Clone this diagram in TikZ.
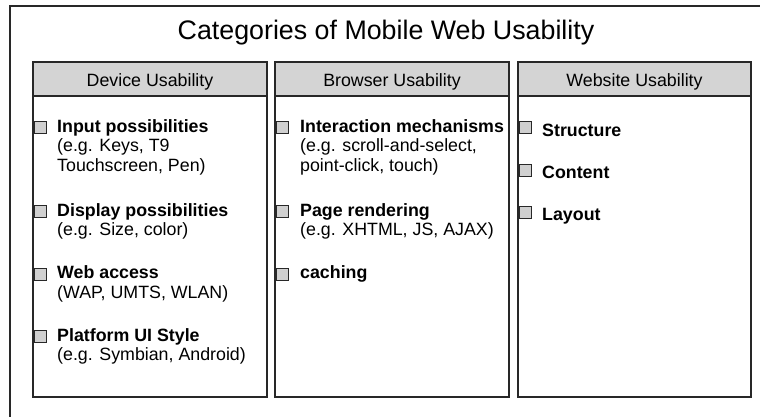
\documentclass[tikz,border=0pt]{standalone}
\usepackage{fontspec}
\setmainfont{Liberation Sans}
\definecolor{hdr}{RGB}{212,212,212}
\definecolor{sq}{RGB}{208,208,208}
\definecolor{ln}{RGB}{40,40,40}
\begin{document}
\begin{tikzpicture}[x=1pt,y=-1pt,
  frame/.style={draw=ln,line width=1.1pt},
  colbox/.style={draw=ln,line width=1.3pt},
  hdrbox/.style={draw=ln,line width=1.3pt,fill=hdr},
  chk/.style={draw=ln,line width=0.9pt,fill=sq,minimum size=12pt,inner sep=0pt,anchor=north west},
  ttl/.style={font=\fontsize{26.8}{30}\selectfont,inner sep=0pt,anchor=base},
  hdrtxt/.style={font=\fontsize{17.8}{20}\selectfont,inner sep=0pt,anchor=base},
  itb/.style={font=\fontsize{17.8}{20}\selectfont\bfseries,inner sep=0pt,anchor=base west},
  itr/.style={font=\fontsize{17.8}{20}\selectfont,inner sep=0pt,anchor=base west}]
\useasboundingbox (0,0) rectangle (760,417);
\clip (0,0) rectangle (760,417);
\fill[white] (0,0) rectangle (760,417);
\draw[frame] (10,6) rectangle (790,440);
\node[ttl] (title) at (386,40) {Categories of Mobile Web Usability};
% columns
\draw[colbox] (33,96) rectangle (267,397);
\draw[hdrbox] (33,62) rectangle (267,96);
\draw[colbox] (275,96) rectangle (509,397);
\draw[hdrbox] (275,62) rectangle (509,96);
\draw[colbox] (518,96) rectangle (751,397);
\draw[hdrbox] (518,62) rectangle (751,96);
\node[hdrtxt] (h1) at (150,87) {Device Usability};
\node[hdrtxt] (h2) at (392,87) {Browser Usability};
\node[hdrtxt] (h3) at (634.5,87) {Website Usability};
% column 1
\node[chk] (s11) at (33.5,121) {};
\node[itb] (a11) at (57,132) {Input possibilities};
\node[itr] (b11) at (57,151.5) {(e.g. Keys, T9};
\node[itr] (c11) at (57,171) {Touchscreen, Pen)};
\node[chk] (s12) at (33.5,205) {};
\node[itb] (a12) at (57,216) {Display possibilities};
\node[itr] (b12) at (57,235.5) {(e.g. Size, color)};
\node[chk] (s13) at (33.5,267.5) {};
\node[itb] (a13) at (57,278.5) {Web access};
\node[itr] (b13) at (57,298) {(WAP, UMTS, WLAN)};
\node[chk] (s14) at (33.5,330) {};
\node[itb] (a14) at (57,341) {Platform UI Style};
\node[itr] (b14) at (57,360.5) {(e.g. Symbian, Android)};
% column 2
\node[chk] (s21) at (275.5,121) {};
\node[itb] (a21) at (300,132) {Interaction mechanisms};
\node[itr] (b21) at (300,151.5) {(e.g. scroll-and-select,};
\node[itr] (c21) at (300,171) {point-click, touch)};
\node[chk] (s22) at (275.5,205) {};
\node[itb] (a22) at (300,216) {Page rendering};
\node[itr] (b22) at (300,235.5) {(e.g. XHTML, JS, AJAX)};
\node[chk] (s23) at (275.5,267.5) {};
\node[itb] (a23) at (300,278.5) {caching};
% column 3
\node[chk] (s31) at (518.5,121.5) {};
\node[itb] (a31) at (542,136) {Structure};
\node[chk] (s32) at (518.5,163.5) {};
\node[itb] (a32) at (542,178) {Content};
\node[chk] (s33) at (518.5,205.5) {};
\node[itb] (a33) at (542,220) {Layout};
\end{tikzpicture}
\end{document}
